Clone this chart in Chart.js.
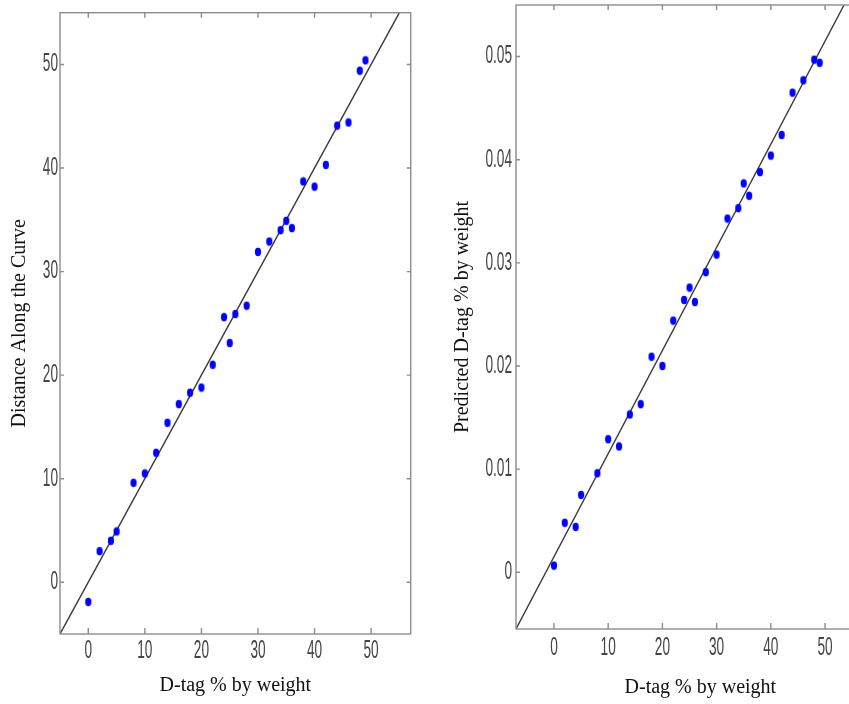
<!DOCTYPE html>
<html>
<head>
<meta charset="utf-8">
<script src="https://cdn.jsdelivr.net/npm/chart.js@4.4.0/dist/chart.umd.min.js"></script>
<style>
  html, body { margin: 0; padding: 0; background: #fff; overflow: hidden; width: 849px; height: 704px; }
  .panel { position: absolute; top: 0; }
  #leftPanel { left: 0; }
  #rightPanel { left: 430px; }
</style>
</head>
<body>
<div class="panel" id="leftPanel"><canvas id="leftChart" width="430" height="704"></canvas></div>
<div class="panel" id="rightPanel"><canvas id="rightChart" width="470" height="704"></canvas></div>
<script>
// ----- DATA -----
const dTagPct = [0, 2, 4, 5, 8, 10, 12, 14, 16, 18, 20, 22, 24, 25, 26, 28, 30, 32, 34, 35, 36, 38, 40, 42, 44, 46, 48, 49];
const curveDistance = [-1.9, 3.0, 4.0, 4.9, 9.6, 10.5, 12.5, 15.4, 17.2, 18.3, 18.8, 21.0, 25.6, 23.1, 25.9, 26.7, 31.9, 32.9, 34.0, 34.9, 34.2, 38.7, 38.2, 40.3, 44.1, 44.4, 49.4, 50.4];
const predictedDTag = [0.00065, 0.0048, 0.0044, 0.0075, 0.0096, 0.0129, 0.0122, 0.0153, 0.0163, 0.0209, 0.0200, 0.0244, 0.0264, 0.0276, 0.0262, 0.0291, 0.0308, 0.0343, 0.0353, 0.0377, 0.0365, 0.0388, 0.0404, 0.0424, 0.0465, 0.0477, 0.0497, 0.0494];

const leftFitX = [-5, 55];
const leftFitY = [-5, 55];
const rightFitX = [-7, 53.5];
const rightFitY = [-0.0055, 0.055];

const xTickValues = [0, 10, 20, 30, 40, 50];
const xTickLabels = ['0', '10', '20', '30', '40', '50'];
const leftYTickValues = [0, 10, 20, 30, 40, 50];
const leftYTickLabels = ['0', '10', '20', '30', '40', '50'];
const rightYTickValues = [0, 0.01, 0.02, 0.03, 0.04, 0.05];
const rightYTickLabels = ['0', '0.01', '0.02', '0.03', '0.04', '0.05'];

// blue dots are slightly taller than wide
function makeDot() {
  const c = document.createElement('canvas');
  c.width = 8; c.height = 10;
  const g = c.getContext('2d');
  g.fillStyle = '#0000ff';
  g.beginPath();
  g.ellipse(4, 5, 3.1, 4.2, 0, 0, Math.PI * 2);
  g.fill();
  return c;
}
const dot = makeDot();

const tickFont = '17px "Liberation Sans Narrow", "Liberation Sans", sans-serif';

// box, inward ticks and tall narrow tick labels, like the old matlab figure
const matlabAxes = {
  id: 'matlabAxes',
  afterDraw(chart, args, opts) {
    const { ctx, chartArea: a, scales } = chart;
    const xs = scales.x, ys = scales.y;
    ctx.save();
    ctx.strokeStyle = '#8c8c8c';
    ctx.lineWidth = 1.4;
    ctx.strokeRect(a.left, a.top, a.right - a.left, a.bottom - a.top);

    ctx.beginPath();
    xs.ticks.forEach(t => {
      const px = xs.getPixelForValue(t.value);
      ctx.moveTo(px, a.bottom); ctx.lineTo(px, a.bottom - 6);
      ctx.moveTo(px, a.top); ctx.lineTo(px, a.top + 5);
    });
    ys.ticks.forEach(t => {
      const py = ys.getPixelForValue(t.value);
      ctx.moveTo(a.left, py); ctx.lineTo(a.left + 4, py);
      ctx.moveTo(a.right, py); ctx.lineTo(a.right - 4, py);
    });
    ctx.stroke();

    ctx.fillStyle = '#444';
    ctx.font = tickFont;
    ctx.textBaseline = 'middle';
    // digits in the picture are ~7.6px wide and ~18px tall
    const sx = 7.6 / ctx.measureText('0').width;
    const sy = 18 / 12.3;
    xs.ticks.forEach(t => {
      const px = xs.getPixelForValue(t.value);
      ctx.save();
      ctx.translate(px, a.bottom + opts.xLabelOffset);
      ctx.scale(sx, sy);
      ctx.textAlign = 'center';
      ctx.fillText(t.label, 0, 0);
      ctx.restore();
    });
    ys.ticks.forEach(t => {
      const py = ys.getPixelForValue(t.value);
      ctx.save();
      ctx.translate(a.left - opts.yLabelGap, py);
      ctx.scale(sx, sy);
      ctx.textAlign = 'right';
      ctx.fillText(t.label, 0, 0);
      ctx.restore();
    });
    ctx.restore();
  }
};

function setTicks(values, labels) {
  return scale => {
    scale.ticks = values.map((v, i) => ({ value: v, label: labels[i] }));
  };
}

function createPanel(canvasId, yValues, fitX, fitY, cfg) {
  const ctx = document.getElementById(canvasId).getContext('2d');
  new Chart(ctx, {
    type: 'scatter',
    data: {
      datasets: [{
        data: dTagPct.map((x, i) => ({ x: x, y: yValues[i] })),
        pointStyle: dot,
        pointRadius: 4,
        pointHoverRadius: 4
      }, {
        data: fitX.map((x, i) => ({ x: x, y: fitY[i] })),
        showLine: true,
        borderColor: '#3a3a3a',
        borderWidth: 1.4,
        pointRadius: 0
      }]
    },
    options: {
      responsive: false,
      animation: false,
      layout: { padding: cfg.padding },
      plugins: {
        legend: { display: false },
        tooltip: { enabled: false },
        matlabAxes: { xLabelOffset: cfg.xLabelOffset, yLabelGap: cfg.yLabelGap }
      },
      scales: {
        x: {
          type: 'linear',
          min: cfg.xMin, max: cfg.xMax,
          grid: { display: false },
          border: { display: false },
          ticks: { display: false },
          afterBuildTicks: setTicks(xTickValues, xTickLabels),
          afterFit: scale => { scale.height = cfg.xAxisHeight; },
          title: {
            display: true,
            text: 'D-tag % by weight',
            color: '#111',
            font: { family: '"Liberation Serif", "Times New Roman", serif', size: 20 },
            padding: { top: 0, bottom: cfg.xTitlePad }
          }
        },
        y: {
          type: 'linear',
          min: cfg.yMin, max: cfg.yMax,
          grid: { display: false },
          border: { display: false },
          ticks: { display: false },
          afterBuildTicks: setTicks(cfg.yTickValues, cfg.yTickLabels),
          afterFit: scale => { scale.width = cfg.yAxisWidth; },
          title: {
            display: true,
            text: cfg.yTitle,
            color: '#111',
            font: { family: '"Liberation Serif", "Times New Roman", serif', size: 20 },
            padding: { top: cfg.yTitlePad, bottom: 0 }
          }
        }
      }
    },
    plugins: [matlabAxes]
  });
}

createPanel('leftChart', curveDistance, leftFitX, leftFitY, {
  xMin: -5, xMax: 57, yMin: -5, yMax: 55,
  yTickValues: leftYTickValues, yTickLabels: leftYTickLabels,
  yTitle: 'Distance Along the Curve',
  padding: { top: 12.7, right: 19.3, left: 0, bottom: 0 },
  yAxisWidth: 60, xAxisHeight: 70,
  yTitlePad: 8, xTitlePad: 6,
  xLabelOffset: 17, yLabelGap: 2
});

createPanel('rightChart', predictedDTag, rightFitX, rightFitY, {
  xMin: -7, xMax: 61, yMin: -0.0055, yMax: 0.055,
  yTickValues: rightYTickValues, yTickLabels: rightYTickLabels,
  yTitle: 'Predicted D-tag % by weight',
  padding: { top: 5, right: 15.3, left: 0, bottom: 0 },
  yAxisWidth: 86, xAxisHeight: 75,
  yTitlePad: 21, xTitlePad: 4,
  xLabelOffset: 19, yLabelGap: 4
});
</script>
</body>
</html>
